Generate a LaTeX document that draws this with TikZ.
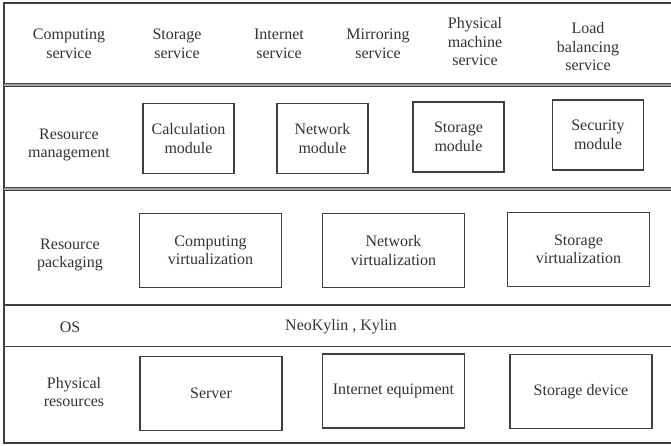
\documentclass[tikz,border=0pt]{standalone}
\usepackage{fontspec}
\setmainfont{Liberation Serif}
\begin{document}
\begin{tikzpicture}[x=1pt,y=-1pt,
  txt/.style={text=black!80, font=\fontsize{16}{18.5}\selectfont, align=center, inner sep=0pt},
  modbox/.style={txt, draw=black!75, line width=1.3pt, minimum width=91pt, minimum height=70pt},
  virtbox/.style={txt, draw=black!75, line width=1.3pt, minimum width=142pt, minimum height=74pt},
  frame/.style={draw=black!75, line width=1.3pt},
  dbl/.style={draw=black!75, line width=1pt, double=black!35, double distance=1.6pt}]
\useasboundingbox (0,0) rectangle (671,445);
% frame
\coordinate (tl) at (4,3);
\coordinate (tr) at (671,3);
\coordinate (bl) at (4,443);
\coordinate (br) at (671,443);
\draw[frame] (tr) -- (tl) -- (bl) -- (br);
% separators
\coordinate (s1l) at (4,85.2); \coordinate (s1r) at (671,85.2);
\coordinate (s2l) at (4,189); \coordinate (s2r) at (671,189);
\coordinate (s3l) at (4,305); \coordinate (s3r) at (671,305);
\coordinate (s4l) at (4,346.5); \coordinate (s4r) at (671,346.5);
\draw[dbl] (s1l) -- (s1r);
\draw[dbl] (s2l) -- (s2r);
\draw[frame] (s3l) -- (s3r);
\draw[frame] (s4l) -- (s4r);
% services
\node[txt] (cs) at (69,44) {Computing\\service};
\node[txt] (ss) at (177,44) {Storage\\service};
\node[txt] (is) at (279,44) {Internet\\service};
\node[txt] (ms) at (378,44) {Mirroring\\service};
\node[txt] (ps) at (475,42) {Physical\\machine\\service};
\node[txt] (ls) at (588,47) {Load\\balancing\\service};
% resource management
\node[txt] (rm) at (69,145) {Resource\\management};
\node[modbox] (calc) at (188.5,138.5) {Calculation\\module};
\node[modbox] (netm) at (322.5,138.5) {Network\\module};
\node[modbox] (stom) at (458.5,137) {Storage\\module};
\node[modbox] (secm) at (598,135) {Security\\module};
% resource packaging
\node[txt] (rp) at (70,255) {Resource\\packaging};
\node[virtbox] (compv) at (210.5,250.5) {Computing\\virtualization};
\node[virtbox] (netv) at (393.5,250.5) {Network\\virtualization};
\node[virtbox] (storv) at (578.5,249.5) {Storage\\virtualization};
% OS
\node[txt] (os) at (70,327) {OS};
\node[txt] (nk) at (341,327) {NeoKylin , Kylin};
% physical
\node[txt] (pr) at (74,392) {Physical\\resources};
\node[virtbox] (server) at (211,393.5) {Server};
\node[virtbox] (inet) at (393.5,391) {Internet equipment};
\node[virtbox] (stod) at (581,391.5) {Storage device};
\end{tikzpicture}
\end{document}
